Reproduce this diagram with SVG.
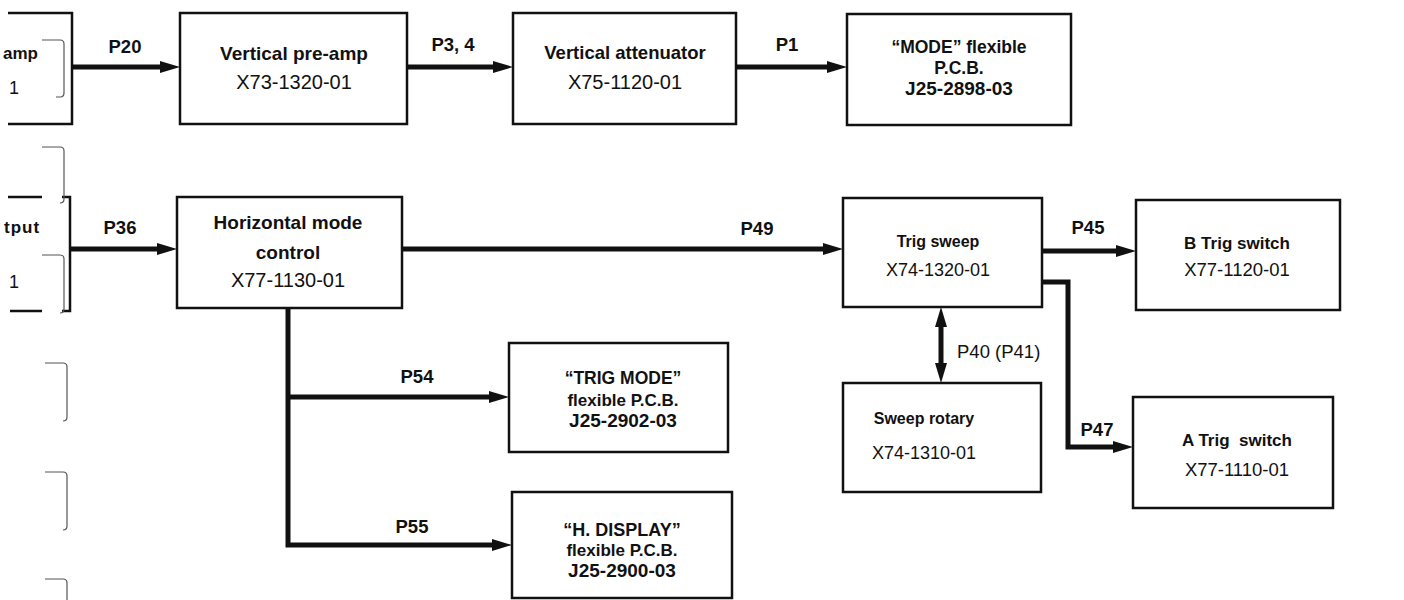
<svg xmlns="http://www.w3.org/2000/svg" width="1404" height="600" viewBox="0 0 1404 600">
<style>
.box{fill:#fff;stroke:#111;stroke-width:2.5}
.edge{fill:none;stroke:#111;stroke-width:2.5}
.brk{fill:none;stroke:#555;stroke-width:1.2}
.con{fill:none;stroke:#111;stroke-width:5}
text{font-family:"Liberation Sans",Arial,sans-serif;fill:#111}
.b{font-weight:bold}
.m{text-anchor:middle}
</style>
<defs>
<marker id="ah" markerUnits="userSpaceOnUse" markerWidth="20" markerHeight="12" refX="8" refY="6" orient="auto-start-reverse">
<path d="M0,0 L20,6 L0,12 z" fill="#111"/>
</marker>
</defs>
<rect width="1404" height="600" fill="#fff"/>

<g id="left-partial">
<path class="edge" d="M8,13 H72 V124 H8"/>
<path class="edge" d="M8,197 H42 M62,197 H70 V311 H62 M10,311 H42"/>
<path class="brk" d="M42,40 H60 Q64,40 64,44 V93 Q64,97 60,97 H56"/>
<path class="brk" d="M42,147 H60 Q64,147 64,151 V199 Q64,203 60,203"/>
<path class="brk" d="M42,255 H60 Q64,255 64,259 V309 Q64,313 60,313"/>
<path class="brk" d="M45,363 H63 Q67,363 67,367 V417 Q67,421 63,421"/>
<path class="brk" d="M45,472 H63 Q67,472 67,476 V526 Q67,530 63,530"/>
<path class="brk" d="M45,579 H63 Q67,579 67,583 V600"/>
<text class="b" x="3" y="59" font-size="17">amp</text>
<text x="9" y="94" font-size="18">1</text>
<text class="b" x="4" y="233" font-size="17" letter-spacing="1">tput</text>
<text x="9" y="288" font-size="18">1</text>
</g>

<g id="connectors">
<path class="con" d="M72,67 H168" marker-end="url(#ah)"/>
<path class="con" d="M407,67 H501" marker-end="url(#ah)"/>
<path class="con" d="M736,67 H835" marker-end="url(#ah)"/>
<path class="con" d="M70,249 H165" marker-end="url(#ah)"/>
<path class="con" d="M402,249 H831" marker-end="url(#ah)"/>
<path class="con" d="M1042,251 H1124" marker-end="url(#ah)"/>
<path class="con" d="M1042,282 H1068 V447 H1121" marker-end="url(#ah)"/>
<path class="con" d="M941,319 V371" marker-start="url(#ah)" marker-end="url(#ah)"/>
<path class="con" d="M288,308 V545 H500" marker-end="url(#ah)"/>
<path class="con" d="M288,397 H497" marker-end="url(#ah)"/>
<text class="b m" x="125" y="53" font-size="18.5">P20</text>
<text class="b m" x="453" y="51" font-size="18.5">P3, 4</text>
<text class="b m" x="787" y="51" font-size="18.5">P1</text>
<text class="b m" x="120" y="234" font-size="18.5">P36</text>
<text class="b m" x="757" y="235" font-size="18.5">P49</text>
<text class="b m" x="1088" y="234" font-size="18.5">P45</text>
<text class="b m" x="1097" y="436" font-size="18.5">P47</text>
<text x="957" y="358" font-size="18.5">P40 (P41)</text>
<text class="b m" x="417" y="383" font-size="18.5">P54</text>
<text class="b m" x="412" y="533" font-size="18.5">P55</text>
</g>

<g id="vertical-preamp">
<rect class="box" x="180" y="13" width="227" height="111"/>
<text class="b m" x="294" y="60" font-size="19">Vertical pre-amp</text>
<text class="m" x="294" y="89" font-size="20">X73-1320-01</text>
</g>

<g id="vertical-attenuator">
<rect class="box" x="513" y="13" width="223" height="111"/>
<text class="b m" x="625" y="59" font-size="18.5">Vertical attenuator</text>
<text class="m" x="625" y="89" font-size="20">X75-1120-01</text>
</g>

<g id="mode-pcb">
<rect class="box" x="847" y="14" width="224" height="111"/>
<text class="b m" x="959" y="53" font-size="17.5">“MODE” flexible</text>
<text class="b m" x="959" y="74" font-size="17.5">P.C.B.</text>
<text class="b m" x="959" y="95" font-size="19">J25-2898-03</text>
</g>

<g id="horizontal-mode-control">
<rect class="box" x="177" y="197" width="225" height="111"/>
<text class="b m" x="288" y="229" font-size="19">Horizontal mode</text>
<text class="b m" x="288" y="259" font-size="19">control</text>
<text class="m" x="288" y="287" font-size="20">X77-1130-01</text>
</g>

<g id="trig-sweep">
<rect class="box" x="843" y="198" width="199" height="109"/>
<text class="b m" x="938" y="247" font-size="16">Trig sweep</text>
<text class="m" x="938" y="276" font-size="18">X74-1320-01</text>
</g>

<g id="b-trig-switch">
<rect class="box" x="1136" y="200" width="204" height="110"/>
<text class="b m" x="1237" y="249" font-size="17">B Trig switch</text>
<text class="m" x="1237" y="276" font-size="18.5">X77-1120-01</text>
</g>

<g id="sweep-rotary">
<rect class="box" x="843" y="383" width="198" height="109"/>
<text class="b m" x="924" y="424" font-size="16">Sweep rotary</text>
<text class="m" x="924" y="459" font-size="18">X74-1310-01</text>
</g>

<g id="a-trig-switch">
<rect class="box" x="1133" y="397" width="200" height="111"/>
<text class="b m" x="1237" y="446" font-size="17" xml:space="preserve">A Trig  switch</text>
<text class="m" x="1237" y="476" font-size="18.5">X77-1110-01</text>
</g>

<g id="trig-mode-pcb">
<rect class="box" x="509" y="343" width="219" height="109"/>
<text class="b m" x="623" y="384" font-size="17.5">“TRIG MODE”</text>
<text class="b m" x="623" y="406" font-size="17">flexible P.C.B.</text>
<text class="b m" x="623" y="427" font-size="19">J25-2902-03</text>
</g>

<g id="h-display-pcb">
<rect class="box" x="512" y="492" width="220" height="106"/>
<text class="b m" x="622" y="536" font-size="18">“H. DISPLAY”</text>
<text class="b m" x="622" y="556" font-size="17">flexible P.C.B.</text>
<text class="b m" x="622" y="577" font-size="19">J25-2900-03</text>
</g>
</svg>
